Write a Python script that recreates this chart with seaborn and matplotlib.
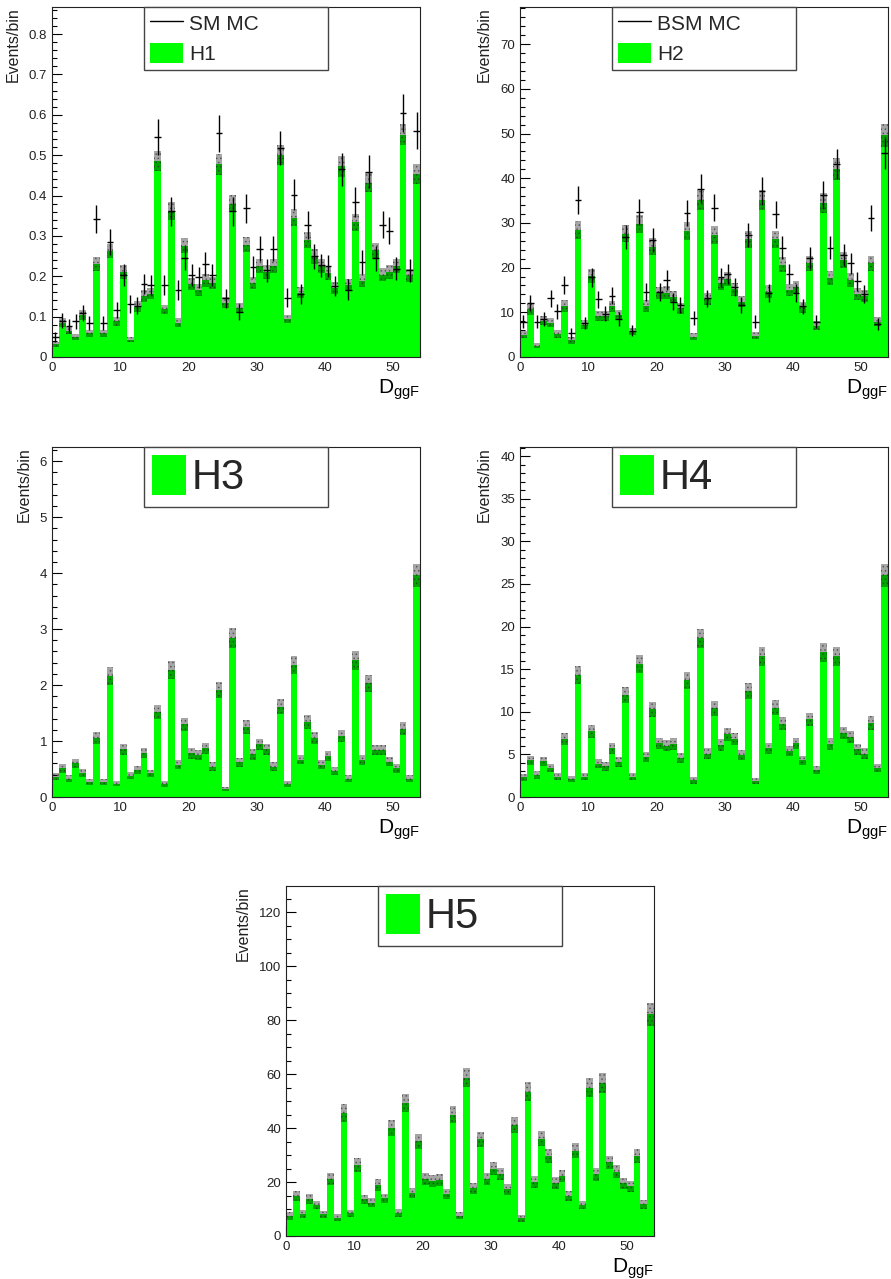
import numpy as np
import pandas as pd
import matplotlib
matplotlib.use("Agg")
import matplotlib.pyplot as plt
import seaborn as sns
from matplotlib.lines import Line2D
from matplotlib.patches import Patch
from matplotlib.ticker import MultipleLocator, FuncFormatter

sns.set_style("ticks")
plt.rcParams['font.family'] = ['Liberation Sans', 'DejaVu Sans']
plt.rcParams['mathtext.fontset'] = 'custom'
plt.rcParams['mathtext.rm'] = 'Liberation Sans'
plt.rcParams['hatch.linewidth'] = 0.6

#%%
# 54 bins of D_ggF, 0..54
edges = np.arange(55)
centers = edges[:-1] + 0.5

# H1 + SM MC
h1 = [0.032, 0.085, 0.065, 0.049, 0.104, 0.059, 0.231, 0.059, 0.262, 0.088,
      0.211, 0.043, 0.125, 0.151, 0.157, 0.486, 0.118, 0.362, 0.085, 0.276,
      0.180, 0.167, 0.190, 0.184, 0.477, 0.135, 0.380, 0.121, 0.278, 0.183,
      0.225, 0.211, 0.225, 0.500, 0.094, 0.345, 0.159, 0.290, 0.249, 0.225,
      0.207, 0.170, 0.472, 0.178, 0.334, 0.189, 0.432, 0.264, 0.204, 0.211,
      0.226, 0.551, 0.203, 0.453]
h1_band = [0.006, 0.011, 0.009, 0.008, 0.012, 0.009, 0.017, 0.009, 0.018, 0.011,
           0.017, 0.007, 0.013, 0.014, 0.014, 0.025, 0.012, 0.022, 0.011, 0.019,
           0.015, 0.015, 0.016, 0.015, 0.025, 0.013, 0.022, 0.013, 0.019, 0.015,
           0.017, 0.017, 0.017, 0.025, 0.011, 0.021, 0.014, 0.019, 0.018, 0.017,
           0.016, 0.015, 0.025, 0.015, 0.021, 0.016, 0.024, 0.018, 0.016, 0.017,
           0.017, 0.027, 0.016, 0.024]
sm_mc = [0.049, 0.090, 0.077, 0.088, 0.110, 0.084, 0.342, 0.084, 0.285, 0.116,
         0.203, 0.131, 0.127, 0.180, 0.178, 0.545, 0.178, 0.361, 0.166, 0.246,
         0.204, 0.197, 0.230, 0.203, 0.554, 0.145, 0.361, 0.112, 0.368, 0.223,
         0.268, 0.215, 0.268, 0.518, 0.147, 0.402, 0.156, 0.327, 0.249, 0.227,
         0.225, 0.176, 0.465, 0.167, 0.383, 0.235, 0.459, 0.244, 0.328, 0.313,
         0.219, 0.605, 0.215, 0.561]
sm_mc_err = [0.013, 0.018, 0.017, 0.018, 0.020, 0.017, 0.035, 0.017, 0.032, 0.020,
             0.027, 0.022, 0.021, 0.025, 0.025, 0.044, 0.025, 0.036, 0.024, 0.030,
             0.027, 0.027, 0.029, 0.027, 0.045, 0.023, 0.036, 0.020, 0.036, 0.028,
             0.031, 0.028, 0.031, 0.043, 0.023, 0.038, 0.024, 0.034, 0.030, 0.029,
             0.028, 0.025, 0.041, 0.025, 0.037, 0.029, 0.041, 0.030, 0.034, 0.034,
             0.028, 0.047, 0.028, 0.045]

# H2 + BSM MC
h2 = [5.0, 10.7, 2.5, 8.1, 7.7, 5.1, 11.4, 3.7, 28.4, 7.2,
      18.1, 9.2, 9.1, 11.3, 9.4, 27.6, 5.7, 29.7, 11.4, 24.7,
      14.3, 14.4, 13.4, 10.9, 28.2, 4.5, 35.1, 12.9, 27.3, 16.5,
      17.4, 15.2, 12.4, 26.3, 4.8, 35.1, 14.6, 26.3, 20.6, 15.0,
      15.6, 11.1, 21.0, 7.0, 34.5, 17.6, 42.1, 21.7, 17.2, 14.1,
      13.7, 21.0, 7.9, 49.6]
h2_band = [0.83, 1.21, 0.58, 1.05, 1.03, 0.84, 1.25, 0.71, 1.97, 0.99,
           1.57, 1.12, 1.12, 1.24, 1.13, 1.94, 0.88, 2.02, 1.25, 1.84,
           1.40, 1.40, 1.35, 1.22, 1.96, 0.78, 2.19, 1.33, 1.93, 1.50,
           1.54, 1.44, 1.30, 1.90, 0.81, 2.19, 1.41, 1.90, 1.68, 1.43,
           1.46, 1.23, 1.70, 0.98, 2.17, 1.55, 2.40, 1.72, 1.53, 1.39,
           1.37, 1.70, 1.04, 2.61]
bsm_mc = [7.9, 12.0, 7.9, 8.5, 13.1, 10.2, 16.1, 5.3, 35.1, 7.6,
          17.8, 12.9, 9.7, 13.7, 8.5, 26.9, 5.9, 32.5, 14.6, 26.2,
          14.6, 17.2, 12.4, 11.7, 32.2, 8.7, 37.7, 13.1, 33.4, 17.8,
          18.6, 15.6, 11.7, 27.3, 7.9, 37.1, 14.3, 31.9, 24.5, 18.6,
          14.3, 11.3, 22.1, 7.9, 36.2, 24.5, 43.2, 22.8, 21.0, 16.9,
          14.1, 31.0, 7.4, 45.6]
bsm_mc_err = [1.46, 1.80, 1.46, 1.52, 1.88, 1.66, 2.09, 1.20, 3.08, 1.43,
              2.19, 1.87, 1.62, 1.92, 1.52, 2.70, 1.26, 2.96, 1.99, 2.66,
              1.99, 2.16, 1.83, 1.78, 2.95, 1.53, 3.19, 1.88, 3.01, 2.19,
              2.24, 2.05, 1.78, 2.72, 1.46, 3.17, 1.97, 2.94, 2.57, 2.24,
              1.97, 1.75, 2.44, 1.46, 3.13, 2.57, 3.42, 2.48, 2.38, 2.14,
              1.95, 2.90, 1.41, 3.51]

# H3
h3 = [0.36, 0.51, 0.33, 0.60, 0.43, 0.27, 1.06, 0.27, 2.16, 0.24,
      0.85, 0.38, 0.48, 0.79, 0.42, 1.52, 0.23, 2.27, 0.58, 1.30,
      0.78, 0.75, 0.87, 0.54, 1.91, 0.14, 2.84, 0.62, 1.25, 0.76,
      0.94, 0.85, 0.54, 1.61, 0.23, 2.36, 0.67, 1.34, 1.06, 0.58,
      0.73, 0.47, 1.09, 0.33, 2.44, 0.66, 2.03, 0.84, 0.84, 0.63,
      0.51, 1.22, 0.33, 3.96]
h3_band = [0.063, 0.075, 0.060, 0.081, 0.069, 0.055, 0.108, 0.055, 0.154, 0.051,
           0.097, 0.065, 0.073, 0.093, 0.068, 0.129, 0.050, 0.158, 0.080, 0.120,
           0.093, 0.091, 0.098, 0.077, 0.145, 0.039, 0.177, 0.083, 0.117, 0.092,
           0.102, 0.097, 0.077, 0.133, 0.050, 0.161, 0.086, 0.122, 0.108, 0.080,
           0.090, 0.072, 0.110, 0.060, 0.164, 0.085, 0.150, 0.096, 0.096, 0.083,
           0.075, 0.116, 0.060, 0.209]

# H4
h4 = [2.3, 4.3, 2.6, 4.2, 3.4, 2.35, 6.8, 2.1, 14.3, 2.35,
      7.7, 3.9, 3.6, 5.7, 4.1, 12.0, 2.35, 15.6, 4.7, 10.3,
      6.3, 6.0, 6.2, 4.6, 13.7, 1.95, 18.6, 5.1, 10.4, 6.1,
      7.35, 6.8, 4.9, 12.4, 1.9, 16.5, 5.7, 10.5, 8.6, 5.4,
      6.3, 4.3, 9.1, 3.2, 17.0, 6.2, 16.5, 7.5, 7.0, 5.6,
      5.1, 8.7, 3.4, 26.0]
h4_band = [0.41, 0.56, 0.44, 0.55, 0.50, 0.41, 0.70, 0.39, 1.02, 0.41,
           0.75, 0.53, 0.51, 0.64, 0.55, 0.94, 0.41, 1.07, 0.59, 0.87,
           0.68, 0.66, 0.67, 0.58, 1.00, 0.38, 1.16, 0.61, 0.87, 0.67,
           0.73, 0.70, 0.60, 0.95, 0.37, 1.10, 0.64, 0.87, 0.79, 0.63,
           0.68, 0.56, 0.81, 0.48, 1.11, 0.67, 1.10, 0.74, 0.71, 0.64,
           0.61, 0.80, 0.50, 1.38]

# H5
h5 = [7.4, 14.8, 8.1, 13.7, 11.5, 8.0, 21.0, 6.8, 45.6, 8.4,
      26.3, 13.6, 12.3, 18.9, 13.9, 40.1, 8.6, 49.3, 16.0, 35.1,
      21.3, 20.5, 20.7, 15.5, 45.0, 7.5, 58.7, 17.6, 35.8, 21.1,
      25.0, 22.9, 17.3, 41.1, 6.5, 53.4, 20.1, 36.1, 29.7, 19.7,
      22.2, 14.9, 31.6, 11.5, 55.0, 22.8, 56.7, 27.3, 23.8, 19.5,
      18.5, 29.6, 11.8, 82.1]
h5_band = [1.31, 1.85, 1.37, 1.78, 1.63, 1.36, 2.20, 1.25, 3.24, 1.39,
           2.46, 1.77, 1.68, 2.09, 1.79, 3.04, 1.41, 3.37, 1.92, 2.84,
           2.22, 2.17, 2.18, 1.89, 3.22, 1.31, 3.68, 2.01, 2.87, 2.20,
           2.40, 2.30, 2.00, 3.08, 1.22, 3.51, 2.15, 2.88, 2.62, 2.13,
           2.26, 1.85, 2.70, 1.63, 3.56, 2.29, 3.61, 2.51, 2.34, 2.12,
           2.06, 2.61, 1.65, 4.35]

#%%
W, H = 891, 1279
AW, AH = 368, 350
GREEN = '#00ff00'

panels = [
    # label, hist, band, data, data err, data label, (left px, bottom px), major, minor
    ('H1', h1, h1_band, sm_mc, sm_mc_err, 'SM MC', (52, 357), 0.1, 0.02),
    ('H2', h2, h2_band, bsm_mc, bsm_mc_err, 'BSM MC', (520, 357), 10, 2),
    ('H3', h3, h3_band, None, None, None, (52, 797), 1, 0.2),
    ('H4', h4, h4_band, None, None, None, (520, 797), 5, 1),
    ('H5', h5, h5_band, None, None, None, (286, 1236), 20, 5),
]

fig = plt.figure(figsize=(W / 100, H / 100), dpi=100)

for name, hist, band, data, derr, dlabel, (px, py), major, minor in panels:
    ax = fig.add_axes([px / W, (H - py) / H, AW / W, AH / H])
    hist = np.asarray(hist, dtype=float)
    band = np.asarray(band, dtype=float)
    df = pd.DataFrame({'D_ggF': centers, 'events': hist})

    sns.histplot(data=df, x='D_ggF', weights='events', binwidth=1, binrange=(0, 54),
                 color=GREEN, alpha=1, linewidth=0, edgecolor='none', shrink=1,
                 ax=ax, zorder=1)
    # MC stat band
    ax.bar(centers, 2 * band, bottom=hist - band, width=1.0,
           color=(0, 0, 0, 0.35), edgecolor=(0.15, 0.15, 0.15, 0.55),
           linewidth=0, hatch='....', zorder=2)

    if data is not None:
        ax.errorbar(centers, data, xerr=0.5, yerr=derr, fmt='none',
                    ecolor='black', elinewidth=1.0, capsize=0, zorder=3)
        handles = [Line2D([], [], color='black', lw=1.0),
                   Patch(facecolor=GREEN, edgecolor='none')]
        leg = ax.legend(handles, [dlabel, name], loc='upper left',
                        bbox_to_anchor=(0.25, 1.0, 0.5, 0.0), mode='expand',
                        borderaxespad=0, fontsize=15, handlelength=1.6,
                        handleheight=1.1, labelspacing=0.45, borderpad=0.28,
                        handletextpad=0.3, frameon=True, fancybox=False,
                        framealpha=1, edgecolor='#444444')
    else:
        handles = [Patch(facecolor=GREEN, edgecolor='none')]
        leg = ax.legend(handles, [name], loc='upper left',
                        bbox_to_anchor=(0.25, 1.0, 0.5, 0.0), mode='expand',
                        borderaxespad=0, fontsize=30, handlelength=0.8,
                        handleheight=1.1, borderpad=0.2, handletextpad=0.15,
                        frameon=True, fancybox=False, framealpha=1,
                        edgecolor='#444444')
    leg.get_frame().set_linewidth(1.0)
    leg.set_zorder(5)

    ax.set_xlim(0, 54)
    ax.set_ylim(0, 1.5 * np.max(hist + band))

    ax.xaxis.set_major_locator(MultipleLocator(10))
    ax.xaxis.set_minor_locator(MultipleLocator(2))
    ax.yaxis.set_major_locator(MultipleLocator(major))
    ax.yaxis.set_minor_locator(MultipleLocator(minor))
    ax.yaxis.set_major_formatter(FuncFormatter(lambda v, _: f'{v:g}'))
    ax.tick_params(which='both', direction='in', top=False, right=False,
                   labelsize=9.5, labelcolor='#222222', width=0.8, color='black')
    ax.tick_params(which='major', length=7.2, pad=3.5)
    ax.tick_params(which='minor', length=3.6)
    for s in ax.spines.values():
        s.set_linewidth(0.8)
        s.set_color('#222222')

    ax.set_ylabel('Events/bin', loc='top', fontsize=11.5, color='#222222', labelpad=6)
    ax.set_xlabel(r'$\mathrm{D}_{\mathrm{ggF}}$', loc='right', fontsize=15, color='black')
    ax.xaxis.set_label_coords(1.0, -20 / AH)

plt.savefig('out.png', dpi=100)
